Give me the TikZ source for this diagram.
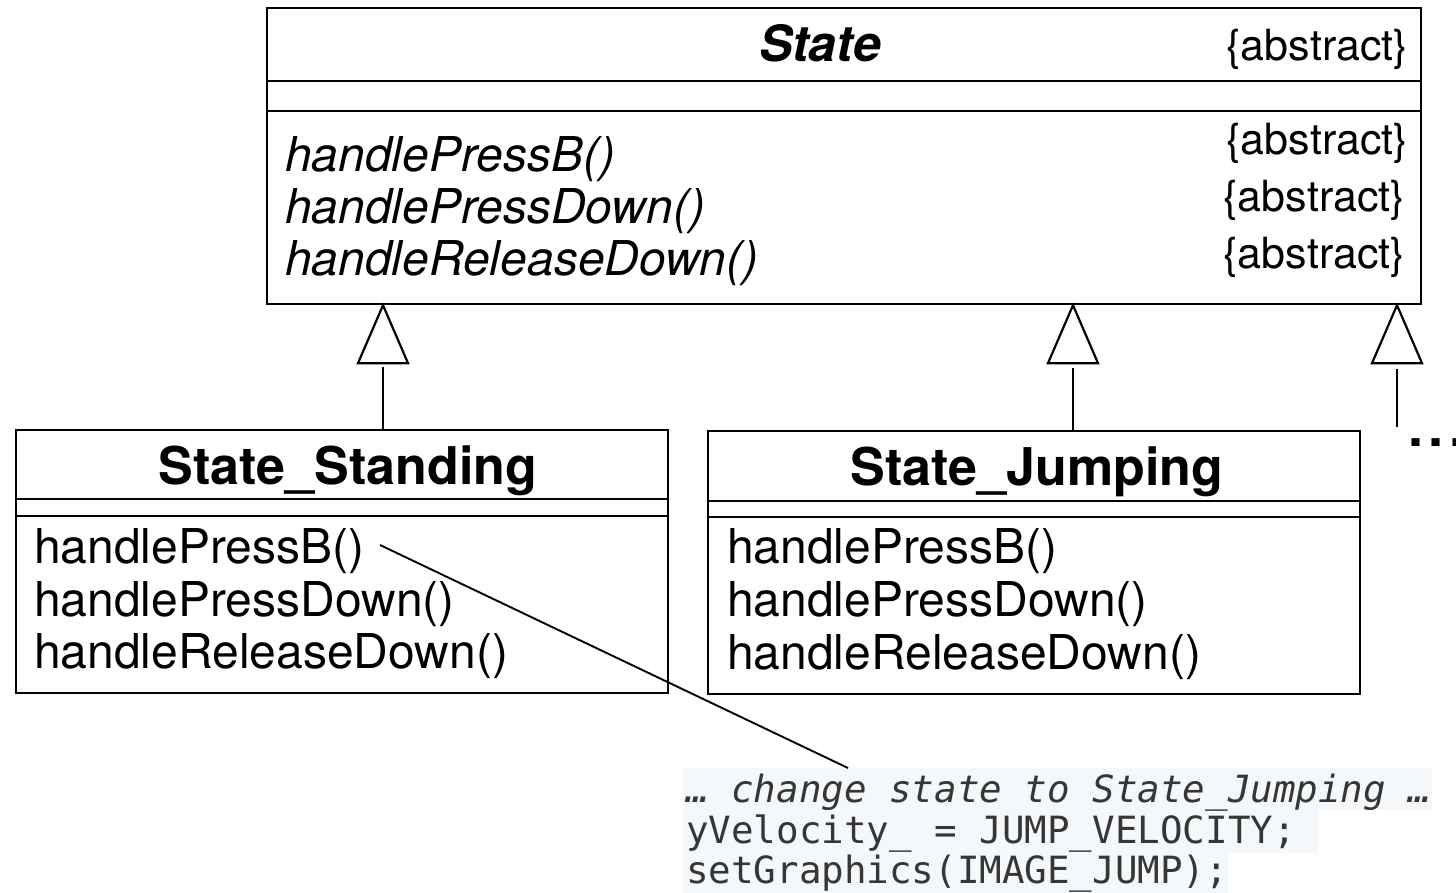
\documentclass[tikz,border=0pt]{standalone}
\usepackage{fontspec}
\setmainfont{TeX Gyre Heros}
\newfontfamily\codefont{DejaVu Sans Mono}
\usetikzlibrary{calc}
\definecolor{codebg}{HTML}{F5F8FA}
\definecolor{codefg}{HTML}{363636}
\begin{document}
\begin{tikzpicture}[x=1pt,y=-1pt,
  classbox/.style={draw, line width=2.2pt, rectangle, inner sep=0pt, anchor=north west},
  sepline/.style={line width=2.2pt},
  method/.style={inner sep=0pt, anchor=base west, font=\fontsize{48}{52}\selectfont},
  absmethod/.style={inner sep=0pt, anchor=base west, font=\fontsize{48}{52}\selectfont\itshape},
  tag/.style={inner sep=0pt, anchor=base east, font=\fontsize{43}{48}\selectfont},
  classname/.style={inner sep=0pt, anchor=base, font=\fontsize{52}{60}\selectfont\bfseries},
  codeline/.style={inner sep=0pt, anchor=base west, text=codefg, font=\fontsize{37.5}{40}\selectfont\codefont},
  inherit/.style={line width=2.2pt, line join=miter},
  noteline/.style={line width=1.9pt},
]
\useasboundingbox (0,0) rectangle (1456,893);

% abstract base class
\node[classbox, minimum width=1154pt, minimum height=296pt] (state) at (266,7) {};
\draw[sepline] (state.west |- 0,81) -- (state.east |- 0,81);
\draw[sepline] (state.west |- 0,111) -- (state.east |- 0,111);
\node[inner sep=0pt, anchor=base, font=\fontsize{50}{56}\selectfont\bfseries\itshape] (statename) at (820,62) {State};
\node[tag] (abs0) at (1408,61) {\{abstract\}};
\node[absmethod] (am1) at (285,172) {handlePressB()};
\node[absmethod] (am2) at (285,224) {handlePressDown()};
\node[absmethod] (am3) at (285,276) {handleReleaseDown()};
\node[tag] (abs1) at (1408,155) {\{abstract\}};
\node[tag] (abs2) at (1405,212) {\{abstract\}};
\node[tag] (abs3) at (1405,269) {\{abstract\}};

% concrete state: standing
\node[classbox, minimum width=652pt, minimum height=263pt] (stand) at (15,429) {};
\draw[sepline] (stand.west |- 0,499) -- (stand.east |- 0,499);
\draw[sepline] (stand.west |- 0,516) -- (stand.east |- 0,516);
\node[classname] (standname) at (348,484) {State\_Standing};
\node[method] (sm1) at (34,563) {handlePressB()};
\node[method] (sm2) at (34,616) {handlePressDown()};
\node[method] (sm3) at (34,668) {handleReleaseDown()};

% concrete state: jumping
\node[classbox, minimum width=652pt, minimum height=263pt] (jump) at (707,430) {};
\draw[sepline] (jump.west |- 0,501) -- (jump.east |- 0,501);
\draw[sepline] (jump.west |- 0,517) -- (jump.east |- 0,517);
\node[classname] (jumpname) at (1037,485) {State\_Jumping};
\node[method] (jm1) at (727,563) {handlePressB()};
\node[method] (jm2) at (727,616) {handlePressDown()};
\node[method] (jm3) at (727,669) {handleReleaseDown()};

% further subclasses, elided
\node[inner sep=0pt, anchor=base west, font=\fontsize{54}{56}\selectfont\bfseries] (more) at (1408,446) {.\kern5.5pt.\kern5.5pt.};

% generalisation arrows (hollow triangles)
\coordinate (t1) at (state.south -| 383,0);
\coordinate (t2) at (state.south -| 1073,0);
\coordinate (t3) at (state.south -| 1397,0);
\foreach \t in {t1,t2,t3}{
  \draw[inherit] (\t) -- ++(-25,58) -- ++(50,0) -- cycle;
}
\draw[sepline] (stand.north -| t1) -- ($(t1)+(0,62)$);
\draw[sepline] (jump.north -| t2) -- ($(t2)+(0,63)$);
\coordinate (c3) at (1397,427);
\draw[sepline] (c3) -- ($(t3)+(0,64)$);

% code snippet for State_Standing::handlePressB()
\fill[codebg] (683,768) rectangle (1432,810);
\fill[codebg] (683,810) rectangle (1318,853);
\fill[codebg] (683,853) rectangle (1228,893);
\node[codeline, font=\fontsize{37.5}{40}\selectfont\codefont\itshape] (code1) at (686,802) {… change state to State\_Jumping …};
\node[codeline] (code2) at (686,843) {yVelocity\_ = JUMP\_VELOCITY;};
\node[codeline] (code3) at (686,883) {setGraphics(IMAGE\_JUMP);};

% note link
\coordinate (noteA) at (380,545);
\coordinate (noteB) at (848,768);
\draw[noteline] (noteA) -- (noteB);
\end{tikzpicture}
\end{document}
